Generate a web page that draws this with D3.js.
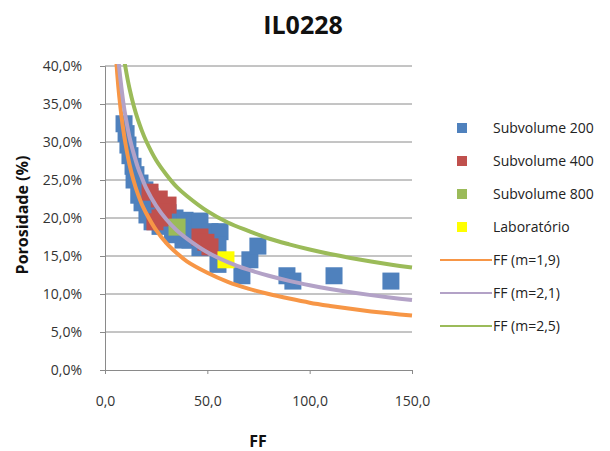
<!DOCTYPE html>
<html>
<head>
<meta charset="utf-8">
<script src="https://cdn.jsdelivr.net/npm/d3@7"></script>
<style>
  body { margin: 0; background: #fff; }
  text { font-family: "Open Sans", sans-serif; }
</style>
</head>
<body>
<div id="chart"></div>
<script>
// data: FF (x) and porosity in % (y)
var sub200FF = [9.3, 10.3, 11.2, 12.2, 13.7, 15.1, 17.1, 19.5, 22.0, 24.9, 27.8, 30.8, 18.1, 20.5, 23.0, 26.9,
                34.2, 39.1, 44.0, 46.4, 51.3, 56.2, 55.2, 41.5, 46.4, 38.1, 55.2, 66.9, 70.8, 74.7, 88.9, 91.8, 111.9, 139.7,
                14.2, 16.5, 33.0, 37.5];
var sub200Por = [32.4, 31.1, 29.6, 28.2, 26.8, 25.7, 24.6, 23.7, 22.8, 22.0, 21.3, 20.7, 22.0, 20.4, 19.5, 18.9,
                 20.0, 19.7, 19.1, 19.6, 18.2, 18.2, 16.4, 17.1, 16.1, 17.1, 13.9, 12.4, 14.5, 16.3, 12.4, 11.7, 12.4, 11.7,
                 25.0, 23.0, 17.8, 18.2];
var sub400FF = [22.0, 26.5, 30.8, 26.9, 24.4, 28.5, 46.4, 49.3, 51.3];
var sub400Por = [23.4, 22.5, 21.7, 20.0, 19.5, 20.8, 17.5, 16.8, 16.2];
var sub800FF = [35.2];
var sub800Por = [18.8];
var labFF = [59.1];
var labPor = [14.5];

// FF curves (porosity % at each FF)
var curveFF = [5, 6, 7, 8, 9, 10, 12, 14, 16, 18, 20, 25, 30, 35, 40, 50, 60, 70, 80, 90, 100, 110, 120, 130, 140, 150];
var ffM19 = [42.9, 38.9, 35.9, 33.5, 31.5, 29.8, 27.0, 24.9, 23.2, 21.8, 20.7, 18.4, 16.7, 15.4, 14.3, 12.8, 11.6, 10.7, 10.0, 9.4, 8.86, 8.43, 8.05, 7.71, 7.42, 7.16];
var ffM21 = [46.5, 42.6, 39.6, 37.2, 35.1, 33.4, 30.6, 28.5, 26.7, 25.3, 24.0, 21.6, 19.8, 18.4, 17.3, 15.5, 14.2, 13.2, 12.4, 11.73, 11.16, 10.66, 10.23, 9.85, 9.51, 9.20];
var ffM25 = [52.5, 48.8, 45.9, 43.5, 41.5, 39.8, 37.0, 34.8, 33.0, 31.5, 30.2, 27.6, 25.7, 24.1, 22.9, 20.9, 19.4, 18.3, 17.3, 16.53, 15.85, 15.26, 14.74, 14.27, 13.85, 13.48];

var yTicks = [0, 5, 10, 15, 20, 25, 30, 35, 40];
var xTicks = [0, 50, 100, 150];

var legendNames = ["Subvolume 200", "Subvolume 400", "Subvolume 800", "Laboratório", "FF (m=1,9)", "FF (m=2,1)", "FF (m=2,5)"];

var colors = {
    sub200: "#4F81BD", sub400: "#C0504D", sub800: "#9BBB59", lab: "#FFFF00",
    m19: "#F79646", m21: "#B3A2C7", m25: "#9BBB59"
};

var W = 610, H = 451;
var plot = { left: 105, right: 412, top: 66, bottom: 370 };

var svg = d3.select("#chart").append("svg")
    .attr("width", W)
    .attr("height", H);

var x = d3.scaleLinear().domain([0, 150]).range([plot.left, plot.right]);
var y = d3.scaleLinear().domain([0, 40]).range([plot.bottom, plot.top]);

function zip(xs, ys) {
    return xs.map(function (v, i) { return { ff: v, p: ys[i] }; });
}

// gridlines
svg.append("g").selectAll("line")
    .data(yTicks.filter(function (d) { return d > 0; }))
    .enter().append("line")
    .attr("x1", plot.left).attr("x2", plot.right)
    .attr("y1", function (d) { return y(d); })
    .attr("y2", function (d) { return y(d); })
    .attr("stroke", "#8a8a8a")
    .attr("stroke-width", 1);

// axes
var fmtY = function (d) { return d3.format(".1f")(d).replace(".", ",") + "%"; };
var fmtX = function (d) { return d3.format(".1f")(d).replace(".", ","); };

var yAxis = svg.append("g")
    .attr("transform", "translate(" + plot.left + ",0)")
    .call(d3.axisLeft(y).tickValues(yTicks).tickFormat(fmtY).tickSize(5).tickPadding(18));
var xAxis = svg.append("g")
    .attr("transform", "translate(0," + plot.bottom + ")")
    .call(d3.axisBottom(x).tickValues(xTicks).tickFormat(fmtX).tickSize(4).tickPadding(22));

[yAxis, xAxis].forEach(function (a) {
    a.select(".domain").attr("stroke", "#8a8a8a");
    a.selectAll(".tick line").attr("stroke", "#8a8a8a");
    a.selectAll(".tick text")
        .attr("font-family", "Open Sans, sans-serif")
        .attr("font-size", 14)
        .attr("fill", "#333");
});

// markers
var markerSize = 17;
function drawMarkers(data, color) {
    svg.append("g").selectAll("rect")
        .data(data)
        .enter().append("rect")
        .attr("x", function (d) { return x(d.ff) - markerSize / 2; })
        .attr("y", function (d) { return y(d.p) - markerSize / 2; })
        .attr("width", markerSize)
        .attr("height", markerSize)
        .attr("fill", color);
}
drawMarkers(zip(sub200FF, sub200Por), colors.sub200);
drawMarkers(zip(sub400FF, sub400Por), colors.sub400);
drawMarkers(zip(sub800FF, sub800Por), colors.sub800);
drawMarkers(zip(labFF, labPor), colors.lab);

// curves, clipped to plot area
svg.append("clipPath").attr("id", "clip")
    .append("rect")
    .attr("x", plot.left).attr("y", plot.top - 2)
    .attr("width", plot.right - plot.left + 2)
    .attr("height", plot.bottom - plot.top + 2);

var line = d3.line()
    .x(function (d) { return x(d.ff); })
    .y(function (d) { return y(d.p); })
    .curve(d3.curveCatmullRom);

[[ffM19, colors.m19], [ffM21, colors.m21], [ffM25, colors.m25]].forEach(function (s) {
    svg.append("path")
        .datum(zip(curveFF, s[0]))
        .attr("clip-path", "url(#clip)")
        .attr("fill", "none")
        .attr("stroke", s[1])
        .attr("stroke-width", 4)
        .attr("d", line);
});

// titles
svg.append("text")
    .attr("x", 303).attr("y", 34)
    .attr("text-anchor", "middle")
    .attr("font-family", "Lato, sans-serif")
    .attr("font-weight", "bold")
    .attr("font-size", 25)
    .attr("fill", "#111")
    .text("IL0228");

svg.append("text")
    .attr("transform", "translate(28,215) rotate(-90)")
    .attr("text-anchor", "middle")
    .attr("font-weight", "bold")
    .attr("font-size", 16)
    .attr("fill", "#111")
    .text("Porosidade (%)");

svg.append("text")
    .attr("x", 258).attr("y", 447)
    .attr("text-anchor", "middle")
    .attr("font-weight", "bold")
    .attr("font-size", 16)
    .attr("fill", "#111")
    .text("FF");

// legend
var legendColors = [colors.sub200, colors.sub400, colors.sub800, colors.lab, colors.m19, colors.m21, colors.m25];
var legend = svg.append("g");
legendNames.forEach(function (name, i) {
    var cy = 128 + i * 33;
    if (i < 4) {
        legend.append("rect")
            .attr("x", 457).attr("y", cy - 5)
            .attr("width", 10).attr("height", 10)
            .attr("fill", legendColors[i]);
    } else {
        legend.append("line")
            .attr("x1", 440).attr("x2", 492)
            .attr("y1", cy).attr("y2", cy)
            .attr("stroke", legendColors[i])
            .attr("stroke-width", 2);
    }
    legend.append("text")
        .attr("x", 493).attr("y", cy)
        .attr("dy", "0.35em")
        .attr("font-size", 14)
        .attr("fill", "#222")
        .text(name);
});
</script>
</body>
</html>
